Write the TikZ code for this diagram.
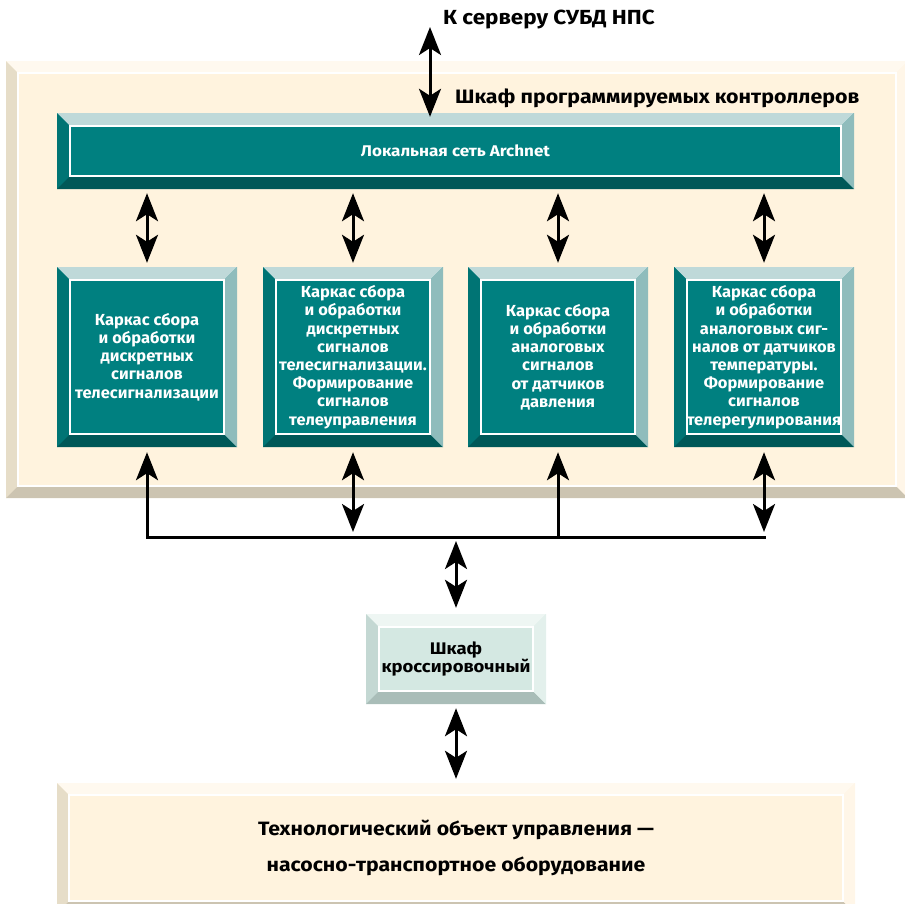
\documentclass[tikz,border=0pt]{standalone}
\usepackage{fontspec}
\setmainfont{Fira Sans}[FakeStretch=1.1]
\newfontfamily\boxfont{Fira Sans}[FakeStretch=1.03]
\usepackage{tikz}
\usetikzlibrary{arrows.meta}

\definecolor{cabfill}{HTML}{FFF3DE}
\definecolor{cabtop}{HTML}{FFF9EF}
\definecolor{cableft}{HTML}{E6DDC8}
\definecolor{cabbot}{HTML}{CCC4B1}
\definecolor{cabright}{HTML}{FFF6E8}
\definecolor{netfill}{HTML}{008080}
\definecolor{nettop}{HTML}{BFD9D9}
\definecolor{netleft}{HTML}{007474}
\definecolor{netbot}{HTML}{005858}
\definecolor{netright}{HTML}{8FBCBC}
\definecolor{crossfill}{HTML}{D4E8E2}
\definecolor{crosstop}{HTML}{EEF6F3}
\definecolor{crossleft}{HTML}{C4D8D3}
\definecolor{crossbot}{HTML}{A9BDB8}
\definecolor{crossright}{HTML}{E3F0EC}

\begin{document}
\begin{tikzpicture}[x=1pt, y=-1pt,
    bevel/.style n args={6}{draw=none, fill=#1, inner sep=0pt, align=center,
      path picture={
        \coordinate (pnw) at (path picture bounding box.north west);
        \coordinate (pne) at (path picture bounding box.north east);
        \coordinate (pse) at (path picture bounding box.south east);
        \coordinate (psw) at (path picture bounding box.south west);
        \fill[#2] (pnw) -- (pne) -- ([xshift=-#6pt,yshift=-#6pt]pne) -- ([xshift=#6pt,yshift=-#6pt]pnw) -- cycle;
        \fill[#3] (pnw) -- ([xshift=#6pt,yshift=-#6pt]pnw) -- ([xshift=#6pt,yshift=#6pt]psw) -- (psw) -- cycle;
        \fill[#4] (psw) -- ([xshift=#6pt,yshift=#6pt]psw) -- ([xshift=-#6pt,yshift=#6pt]pse) -- (pse) -- cycle;
        \fill[#5] (pse) -- ([xshift=-#6pt,yshift=#6pt]pse) -- ([xshift=-#6pt,yshift=-#6pt]pne) -- (pne) -- cycle;
        \draw[white, line width=2pt] ([xshift=#6pt+1pt,yshift=-#6pt-1pt]pnw) rectangle ([xshift=-#6pt-1pt,yshift=#6pt+1pt]pse);
      }},
    cabinet/.style={bevel={cabfill}{cabtop}{cableft}{cabbot}{cabright}{11}},
    netbar/.style={bevel={netfill}{nettop}{netleft}{netbot}{netright}{12}, text=white,
      font=\fontsize{15.5}{18}\selectfont\bfseries},
    framebox/.style={bevel={netfill}{nettop}{netleft}{netbot}{netright}{12}, text=white,
      minimum width=180pt, minimum height=180pt, font=\boxfont\fontsize{16}{18.2}\selectfont\bfseries},
    crossbox/.style={bevel={crossfill}{crosstop}{crossleft}{crossbot}{crossright}{12},
      font=\fontsize{16.8}{18.5}\selectfont\bfseries},
    label/.style={anchor=west, inner sep=0pt, font=\bfseries},
    dbl/.style={line width=3pt, {Stealth[length=28pt,width=22pt,inset=7pt]}-{Stealth[length=28pt,width=22pt,inset=7pt]}},
    sgl/.style={line width=3pt, -{Stealth[length=28pt,width=22pt,inset=7pt]}},
    bus/.style={line width=3pt, line cap=rect}]
    \useasboundingbox (0,0) rectangle (905,903);
    \clip (0,0) rectangle (905,903);
    \node [cabinet, minimum width=902pt, minimum height=437pt] (cab) at (457,279.5) {};
    \node [label, font=\fontsize{20.4}{23}\selectfont\bfseries] (server) at (443,20) {К серверу СУБД НПС};
    \node [label, font=\fontsize{19.4}{22}\selectfont\bfseries] (title) at (455,98) {Шкаф программируемых контроллеров};
    \node [netbar, minimum width=797pt, minimum height=76pt] (net) at (455.5,151) {Локальная сеть Archnet};
    \node [framebox] (frame1) at (147,357) {Каркас сбора\\и обработки\\дискретных\\сигналов\\телесигнализации};
    \node [framebox] (frame2) at (353,357) {Каркас сбора\\и обработки\\дискретных\\сигналов\\телесигнализации.\\Формирование\\сигналов\\телеуправления};
    \node [framebox] (frame3) at (558,357) {Каркас сбора\\и обработки\\аналоговых\\сигналов\\от датчиков\\давления};
    \node [framebox] (frame4) at (764,357) {Каркас сбора\\и обработки\\аналоговых сиг-\\налов от датчиков\\температуры.\\Формирование\\сигналов\\телерегулирования};
    \node [crossbox, minimum width=180pt, minimum height=90pt] (cross) at (456,659) {Шкаф\\кроссировочный};
    \node [cabinet, minimum width=798pt, minimum height=130pt, font=\fontsize{19.3}{36}\selectfont\bfseries] (tech) at (456,848) {Технологический объект управления —\\насосно-транспортное оборудование};
    \coordinate (up) at (430,27);
    \coordinate (busl) at (147,537);
    \coordinate (busr) at (764,537);
    \coordinate (busm) at (456,537);
    \draw [dbl, shorten >=-4pt] (up) -- (up |- net.north);
    \draw [dbl, shorten <=4pt, shorten >=4pt] (frame1.north |- net.south) -- (frame1.north);
    \draw [dbl, shorten <=4pt, shorten >=4pt] (frame2.north |- net.south) -- (frame2.north);
    \draw [dbl, shorten <=4pt, shorten >=4pt] (frame3.north |- net.south) -- (frame3.north);
    \draw [dbl, shorten <=4pt, shorten >=4pt] (frame4.north |- net.south) -- (frame4.north);
    \draw [bus] (busl) -- (busr);
    \draw [sgl, shorten >=5pt] (frame1.south |- busl) -- (frame1.south);
    \draw [dbl, shorten <=5pt, shorten >=5pt] (frame2.south) -- (frame2.south |- busl);
    \draw [sgl, shorten >=5pt] (frame3.south |- busl) -- (frame3.south);
    \draw [dbl, shorten <=5pt, shorten >=5pt] (frame4.south) -- (frame4.south |- busl);
    \draw [dbl, shorten <=4pt, shorten >=6pt] (busm) -- (cross.north);
    \draw [dbl, shorten <=4pt, shorten >=4pt] (cross.south) -- (tech.north);
\end{tikzpicture}
\end{document}
